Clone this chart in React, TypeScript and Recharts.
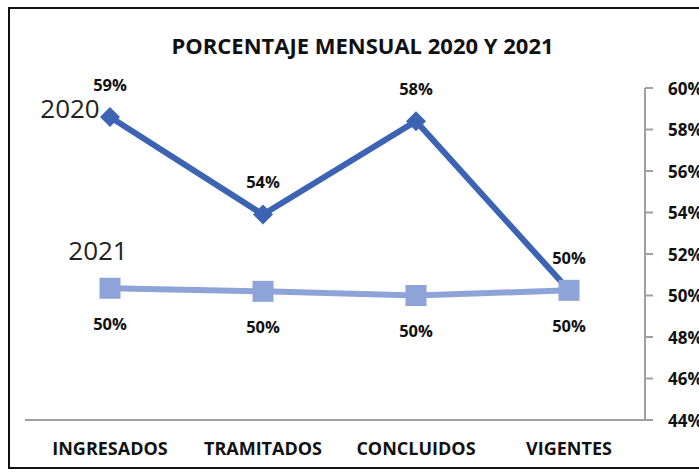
import React from "react";
import { LineChart, Line, XAxis, YAxis, LabelList } from "recharts";

const categories = ["INGRESADOS", "TRAMITADOS", "CONCLUIDOS", "VIGENTES"];
const values2020 = [0.586, 0.539, 0.584, 0.5025];
const values2021 = [0.5035, 0.502, 0.5, 0.5025];
const yTicks = [0.44, 0.46, 0.48, 0.5, 0.52, 0.54, 0.56, 0.58, 0.6];
const seriesNames = ["2020", "2021"];
const title = "PORCENTAJE MENSUAL 2020 Y 2021";

const data = categories.map((c, i) => ({ cat: c, y2020: values2020[i], y2021: values2021[i] }));

const FONT = "'Open Sans', sans-serif";
const DARK = "#3D63B3";
const LIGHT = "#8EA3D8";

const pct = (v: number) => `${Math.round(v * 100)}%`;

const Diamond = (props: any) => {
  const { cx, cy } = props;
  if (cx == null || cy == null) return null;
  const r = 10;
  return <polygon points={`${cx},${cy - r} ${cx + r},${cy} ${cx},${cy + r} ${cx - r},${cy}`} fill={DARK} />;
};
const Square = (props: any) => {
  const { cx, cy } = props;
  if (cx == null || cy == null) return null;
  const r = 10.5;
  return <rect x={cx - r} y={cy - r} width={2 * r} height={2 * r} fill={LIGHT} />;
};

const makeLabel = (dy: number, nameIdx: number, nameDx: number, nameDy: number) => (props: any) => {
  const { x, y, value, index } = props;
  return (
    <g>
      <text x={x} y={y + dy} textAnchor="middle" dominantBaseline="central" fontFamily={FONT} fontWeight="bold" fontSize={16.5} fill="#111">
        {pct(value)}
      </text>
      {index === 0 ? (
        <text x={x + nameDx} y={y + nameDy} textAnchor="middle" dominantBaseline="central" fontFamily={FONT} fontSize={26} fill="#222">
          {seriesNames[nameIdx]}
        </text>
      ) : null}
    </g>
  );
};

const XTick = (props: any) => {
  const { x, y, payload } = props;
  return (
    <text x={x} y={y + 20} textAnchor="middle" dominantBaseline="central" fontFamily={FONT} fontWeight="bold" fontSize={18} fill="#111">
      {payload.value}
    </text>
  );
};
const YTick = (props: any) => {
  const { x, y, payload } = props;
  return (
    <text x={x + 13} y={y} textAnchor="start" dominantBaseline="central" fontFamily={FONT} fontWeight="bold" fontSize={17} fill="#111">
      {pct(payload.value)}
    </text>
  );
};

export default function App() {
  return (
    <div style={{ position: "absolute", left: 0, top: 0, width: 699, height: 474, overflow: "hidden", background: "#fff" }}>
      <div style={{ position: "absolute", left: 8, top: 7, width: 720, height: 458, border: "2px solid #111", borderRight: "none" }} />
      <div style={{ position: "absolute", left: 0, top: 34, width: 725, textAlign: "center", fontFamily: FONT, fontWeight: "bold", fontSize: 22, lineHeight: "22px", color: "#111" }}>
        {title}
      </div>
      <div style={{ position: "absolute", left: 0, top: 0 }}>
        <LineChart width={740} height={474} data={data} margin={{ top: 88, right: 35, bottom: 24, left: 25 }}>
          <XAxis dataKey="cat" tick={<XTick />} tickLine={false} axisLine={{ stroke: "#A0A0A0", strokeWidth: 2 }} height={30} padding={{ left: 85, right: 76 }} interval={0} />
          <YAxis orientation="right" domain={[0.44, 0.6]} ticks={yTicks} tick={<YTick />} tickLine={{ stroke: "#A0A0A0", strokeWidth: 2 }} tickSize={8} axisLine={{ stroke: "#A0A0A0", strokeWidth: 2 }} width={60} />
          <Line dataKey="y2020" stroke={DARK} strokeWidth={6} dot={<Diamond />} isAnimationActive={false}>
            <LabelList dataKey="y2020" content={makeLabel(-33, 0, -40, -9)} />
          </Line>
          <Line dataKey="y2021" stroke={LIGHT} strokeWidth={6} dot={<Square />} isAnimationActive={false}>
            <LabelList dataKey="y2021" content={makeLabel(35, 1, -12, -38)} />
          </Line>
        </LineChart>
      </div>
    </div>
  );
}
